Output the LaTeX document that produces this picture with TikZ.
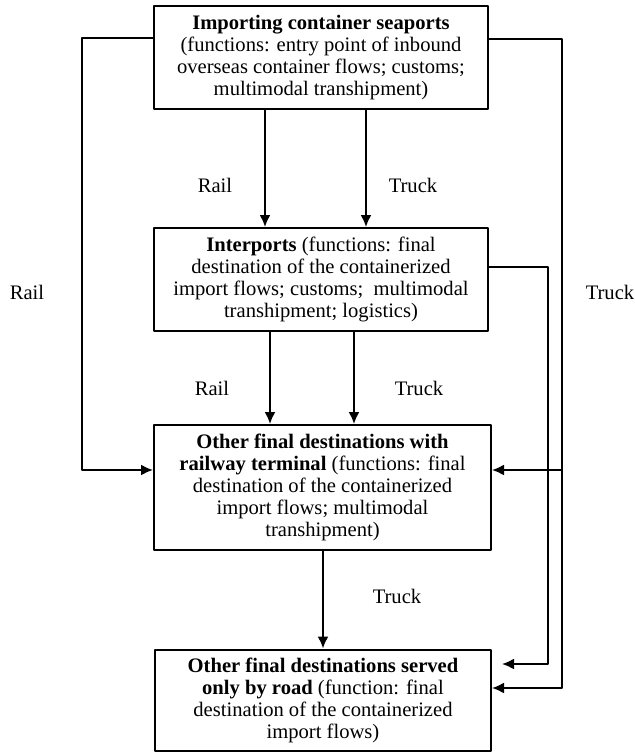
\documentclass[tikz,border=0pt]{standalone}
\usepackage{fontspec}
\setmainfont{Liberation Serif}
\usetikzlibrary{arrows.meta}

\tikzset{
  box/.style={draw,line width=1pt,align=center,inner sep=0pt,
    font=\fontsize{10.3}{11}\selectfont},
  lbl/.style={font=\fontsize{10.3}{11}\selectfont},
  flow/.style={line width=1pt,-{Latex[length=6pt,width=5.5pt]}},
  link/.style={line width=1pt}
}

\begin{document}
\begin{tikzpicture}[x=0.5pt,y=-0.5pt,line cap=round,line join=round]
  \useasboundingbox (0,0) rectangle (635,752);
  % boxes
  \node[box,minimum width=167pt,minimum height=51.5pt] (sea) at (321,57.5)
    {\textbf{Importing container seaports}\\(functions: entry point of inbound\\overseas container flows; customs;\\multimodal transhipment)};
  \node[box,minimum width=167pt,minimum height=51.5pt] (inter) at (321,279.5)
    {\textbf{Interports} (functions: final\\destination of the containerized\\import flows; customs;\ \ multimodal\\transhipment; logistics)};
  \node[box,minimum width=168.5pt,minimum height=62.5pt] (rw) at (322.5,487.5)
    {\textbf{Other final destinations with}\\\textbf{railway terminal} (functions: final\\destination of the containerized\\import flows; multimodal\\transhipment)};
  \node[box,minimum width=168pt,minimum height=50.5pt] (road) at (323,700)
    {\textbf{Other final destinations served}\\\textbf{only by road} (function: final\\destination of the containerized\\import flows)};
  % turning points
  \coordinate (railbot) at (82,470);
  \coordinate (truckmid) at (562,470);
  \coordinate (truckbot) at (562,688);
  \coordinate (interbot) at (548,664);
  % vertical flows
  \draw[flow] (sea.south -| 265,0) -- (inter.north -| 265,0);
  \draw[flow] (sea.south -| 366,0) -- (inter.north -| 366,0);
  \draw[flow] (inter.south -| 270,0) -- (rw.north -| 270,0);
  \draw[flow] (inter.south -| 354,0) -- (rw.north -| 354,0);
  \draw[flow] (rw.south -| 323,0) -- (road.north -| 323,0);
  % side flows
  \draw[flow] (sea.west |- 0,38) -| (railbot) -- (rw.west |- railbot);
  \draw[flow] (sea.east |- 0,39) -| (truckbot) -- (road.east |- truckbot);
  \draw[flow] (truckmid) -- (rw.east |- truckmid);
  \draw[flow,shorten >=5pt] (inter.east |- 0,267) -| (interbot) -- (road.east |- interbot);
  % labels
  \node[lbl] (rail1) at (215,185) {Rail};
  \node[lbl] (truck1) at (413,185) {Truck};
  \node[lbl] (rail2) at (212,388) {Rail};
  \node[lbl] (truck2) at (419,388) {Truck};
  \node[lbl] (truck3) at (397,596) {Truck};
  \node[lbl] (railside) at (27,292) {Rail};
  \node[lbl] (truckside) at (610,292) {Truck};
\end{tikzpicture}
\end{document}
